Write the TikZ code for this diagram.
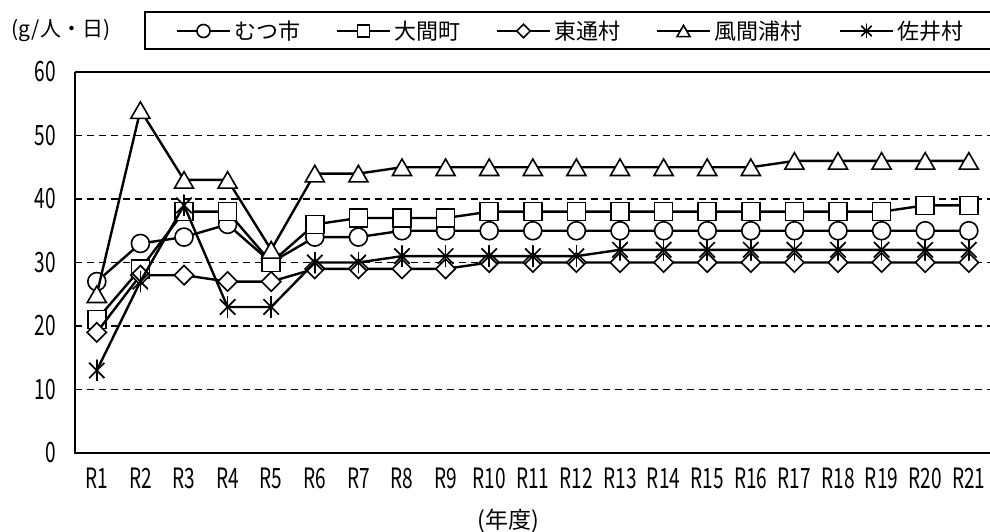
\documentclass[tikz,border=0pt]{standalone}
\usepackage{fontspec}
\setmainfont{Noto Sans CJK JP}
\newfontfamily\narrowfont[FakeStretch=0.68]{Noto Sans CJK JP}
\usetikzlibrary{shapes.geometric}

\tikzset{
  ser/.style={line width=2.4pt, line join=round},
  gridline/.style={line width=1.7pt, dash pattern=on 7pt off 5pt},
  frame/.style={line width=1.8pt},
  legbox/.style={line width=1.4pt},
  mkr/.style={draw, fill=white, line width=1.6pt, inner sep=0pt},
  pcirc/.style={mkr, circle, minimum size=#1},
  pcirc/.default=18pt,
  psq/.style={mkr, rectangle, minimum size=#1},
  psq/.default=18pt,
  pdia/.style={mkr, diamond, minimum size=#1},
  pdia/.default=20pt,
  ptri/.style={mkr, regular polygon, regular polygon sides=3, minimum size=#1, yshift=-#1/8},
  ptri/.default=22pt,
  past/.style={circle, inner sep=0pt, minimum size=#1, path picture={
      \foreach \a in {45,90,135}
        \draw[line width=1.7pt] (path picture bounding box.center) ++(\a:#1/2) -- ++(\a+180:#1);}},
  past/.default=22pt,
  ticklbl/.style={font=\narrowfont\fontsize{28pt}{28pt}\selectfont, inner sep=0pt},
  leglbl/.style={font=\fontsize{22pt}{22pt}\selectfont, inner sep=0pt, anchor=west}
}

\begin{document}
\begin{tikzpicture}
\useasboundingbox (0,0) rectangle (990pt,531pt);

\begin{scope}[shift={(75pt,78pt)}, x=43.6pt, y=6.35pt]
% grid and axes
\foreach \v in {10,20,...,50} \draw[gridline] (0,\v) -- (21,\v);
\draw[frame] (0,60) -- (21,60);
\draw[frame] (0,60) -- (0,0) -- (21,0);
\foreach \v in {0,10,...,60} \node[ticklbl, anchor=east, xshift=-19pt] (y\v) at (0,\v) {\v};
\foreach \i in {1,...,21} \node[ticklbl, yshift=-25pt] (x\i) at (\i-0.5,0) {R\i};

% mutsu
\foreach \v [count=\i] in {27,33,34,36,30,34,34,35,35,35,35,35,35,35,35,35,35,35,35,35,35}
  \coordinate (mu\i) at (\i-0.5,\v);
\draw[ser] (mu1) \foreach \i in {2,...,21}{ -- (mu\i)};
\foreach \i in {1,...,21} \node[pcirc] (muM\i) at (mu\i) {};

% oma
\foreach \v [count=\i] in {21,29,38,38,30,36,37,37,37,38,38,38,38,38,38,38,38,38,38,39,39}
  \coordinate (om\i) at (\i-0.5,\v);
\draw[ser] (om1) \foreach \i in {2,...,21}{ -- (om\i)};
\foreach \i in {1,...,21} \node[psq] (omM\i) at (om\i) {};

% higashidori
\foreach \v [count=\i] in {19,28,28,27,27,29,29,29,29,30,30,30,30,30,30,30,30,30,30,30,30}
  \coordinate (hi\i) at (\i-0.5,\v);
\draw[ser] (hi1) \foreach \i in {2,...,21}{ -- (hi\i)};
\foreach \i in {1,...,21} \node[pdia] (hiM\i) at (hi\i) {};

% kazamaura
\foreach \v [count=\i] in {25,54,43,43,32,44,44,45,45,45,45,45,45,45,45,45,46,46,46,46,46}
  \coordinate (ka\i) at (\i-0.5,\v);
\draw[ser] (ka1) \foreach \i in {2,...,21}{ -- (ka\i)};
\foreach \i in {1,...,21} \node[ptri] (kaM\i) at (ka\i) {};

% sai
\foreach \v [count=\i] in {13,27,39,23,23,30,30,31,31,31,31,31,32,32,32,32,32,32,32,32,32}
  \coordinate (sa\i) at (\i-0.5,\v);
\draw[ser] (sa1) \foreach \i in {2,...,21}{ -- (sa\i)};
\foreach \i in {1,...,21} \node[past] (saM\i) at (sa\i) {};
\end{scope}

% axis titles
\node[font=\fontsize{21pt}{21pt}\selectfont, inner sep=0pt] (unit) at (61pt,500pt) {(g/人・日)};
\node[font=\fontsize{23pt}{23pt}\selectfont, inner sep=0pt] (year) at (508pt,10pt) {(年度)};

% legend
\draw[legbox] (145pt,482pt) rectangle (995pt,519pt);
\coordinate (la1) at (177pt,500pt); \coordinate (lb1) at (230pt,500pt);
\draw[ser] (la1) -- (lb1);
\node[pcirc=13pt] (lk1) at (203.5pt,500pt) {};
\node[leglbl] (lt1) at (234pt,500pt) {むつ市};

\coordinate (la2) at (337pt,500pt); \coordinate (lb2) at (390pt,500pt);
\draw[ser] (la2) -- (lb2);
\node[psq=12pt] (lk2) at (363.5pt,500pt) {};
\node[leglbl] (lt2) at (394pt,500pt) {大間町};

\coordinate (la3) at (497pt,500pt); \coordinate (lb3) at (550pt,500pt);
\draw[ser] (la3) -- (lb3);
\node[pdia=14pt] (lk3) at (523.5pt,500pt) {};
\node[leglbl] (lt3) at (554pt,500pt) {東通村};

\coordinate (la4) at (657pt,500pt); \coordinate (lb4) at (710pt,500pt);
\draw[ser] (la4) -- (lb4);
\node[ptri=15pt] (lk4) at (683.5pt,500pt) {};
\node[leglbl] (lt4) at (714pt,500pt) {風間浦村};

\coordinate (la5) at (840pt,500pt); \coordinate (lb5) at (893pt,500pt);
\draw[ser] (la5) -- (lb5);
\node[past=15pt] (lk5) at (866.5pt,500pt) {};
\node[leglbl] (lt5) at (897pt,500pt) {佐井村};
\end{tikzpicture}
\end{document}
